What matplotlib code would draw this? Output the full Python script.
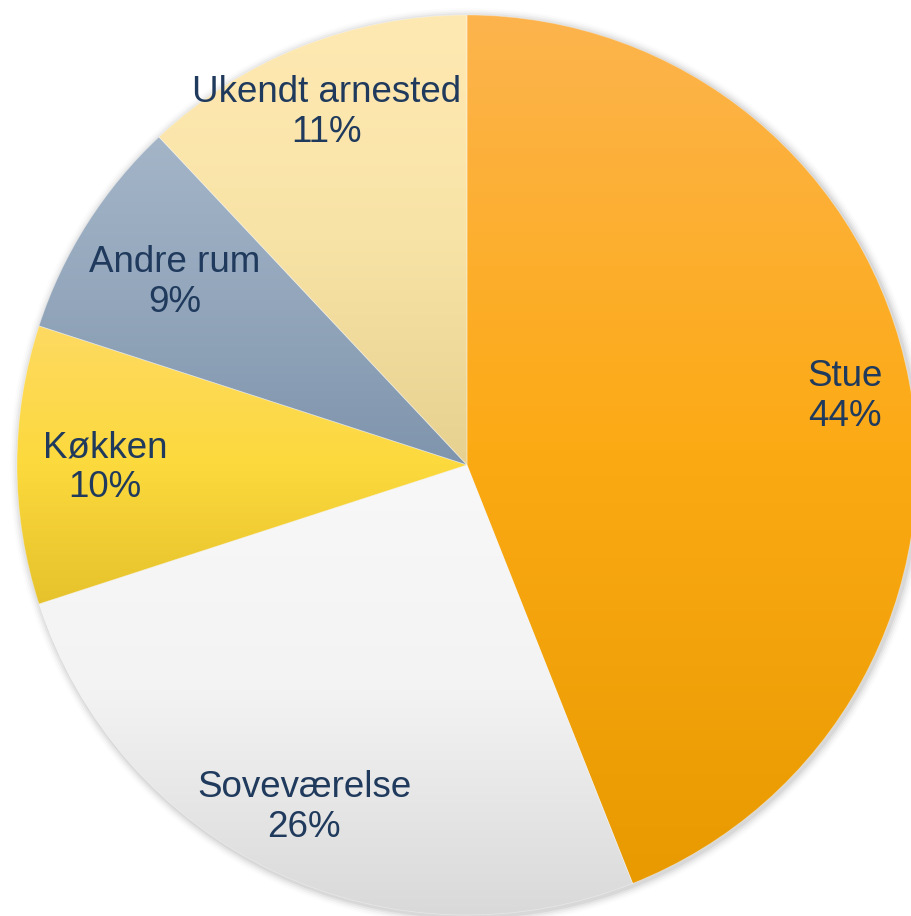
import matplotlib
matplotlib.use("Agg")
import matplotlib.pyplot as plt
import numpy as np
from matplotlib.colors import LinearSegmentedColormap
from matplotlib.patches import Circle

# data
rooms = ["Stue", "Soveværelse", "Køkken", "Andre rum", "Ukendt arnested"]
shares = [44, 26, 10, 8, 12]          # slice sizes as drawn
pct_text = ["44%", "26%", "10%", "9%", "11%"]   # printed labels

# gradient top / middle / bottom for each slice
grad_top = ["#FDB44D", "#F8F8F8", "#FEDA62", "#A4B5C8", "#FFE9B3"]
grad_mid = ["#FCAA14", "#F3F3F3", "#FCD93C", "#93A6BB", "#F8E3A6"]
grad_bot = ["#E89A00", "#D9D9D9", "#E6C22C", "#7F95AD", "#E6D190"]
# label centres (pie radius = 1)
label_xy = [(0.840, 0.152), (-0.362, -0.762), (-0.804, -0.006), (-0.649, 0.405), (-0.313, 0.783)]

TXT = "#1F3A5C"
plt.rcParams["font.family"] = ["Liberation Sans", "DejaVu Sans"]

fig = plt.figure(figsize=(9.11, 9.16), dpi=100)
ax = fig.add_axes([17 / 911, 1 / 916, 900 / 911, 900 / 916])

# soft shadow around the disc
for i, a in enumerate([0.05, 0.04, 0.03, 0.02, 0.01]):
    ax.add_patch(Circle((0.004, -0.004), 1 + 0.004 * (i + 1), fc="#000", ec="none", alpha=a,
                        zorder=0, clip_on=False))

wedges, _ = ax.pie(shares, startangle=90, counterclock=False, radius=1, center=(0, 0),
                   wedgeprops=dict(ec="none"), frame=True)

for w, c0, cm, c1 in zip(wedges, grad_top, grad_mid, grad_bot):
    w.set_facecolor("none")
    ys = w.get_path().vertices[:, 1]
    y0, y1 = ys.min(), ys.max()
    cmap = LinearSegmentedColormap.from_list("g", [c1, cm, c0])
    grad = np.linspace(0, 1, 256).reshape(-1, 1)
    im = ax.imshow(grad, cmap=cmap, origin="lower", extent=(-1, 1, y0, y1), aspect="auto",
                   zorder=1, interpolation="bilinear")
    im.set_clip_path(w)
    w.set_zorder(2)
    w.set_edgecolor((1, 1, 1, 0.35)); w.set_linewidth(0.6)

ax.set_xlim(-1, 1); ax.set_ylim(-1, 1); ax.axis("off")

for name, pct, (x, y) in zip(rooms, pct_text, label_xy):
    ax.text(x, y, f"{name}\n{pct}", ha="center", va="center", fontsize=26.5, color=TXT,
            linespacing=1.19, zorder=5)

fig.savefig("out.png", dpi=100)
